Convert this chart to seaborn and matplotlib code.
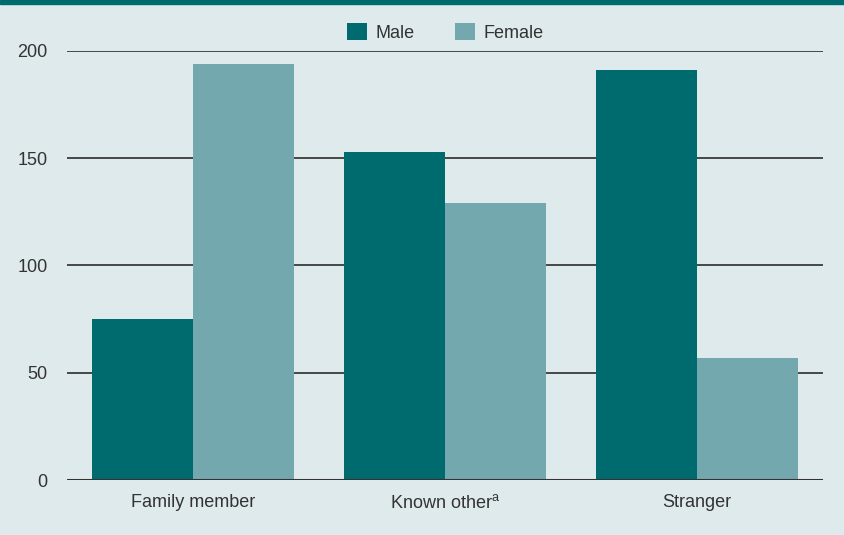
import matplotlib
matplotlib.use("Agg")
import matplotlib.pyplot as plt
import seaborn as sns
import pandas as pd
from matplotlib.patches import Patch

# data
categories = ["Family member", "Known other", "Stranger"]
male = [75, 153, 191]
female = [194, 129, 57]
tick_labels = ["Family member", r"Known other$^{\mathrm{a}}$", "Stranger"]

df = pd.DataFrame({
    "Relationship": categories * 2,
    "Sex": ["Male"] * 3 + ["Female"] * 3,
    "Count": male + female,
})

bg = "#dfeaec"
colors = {"Male": "#006b6f", "Female": "#72a8ae"}

sns.set_style("white")
plt.rcParams["font.family"] = ["Liberation Sans", "DejaVu Sans"]
plt.rcParams["mathtext.fontset"] = "custom"
plt.rcParams["mathtext.rm"] = "Liberation Sans"

fig = plt.figure(figsize=(8.45, 5.35), dpi=100, facecolor=bg)
ax = fig.add_axes([0.0793, 0.1028, 0.8947, 0.8019])
ax.set_facecolor(bg)

sns.barplot(data=df, x="Relationship", y="Count", hue="Sex",
            palette=colors, width=0.8, saturation=1, ax=ax, legend=False,
            linewidth=0, zorder=3)

ax.set_ylim(0, 200)
ax.set_xlim(-0.5, 2.5)
ax.set_yticks([0, 50, 100, 150, 200])
for y in [50, 100, 150, 200]:
    ax.axhline(y, color="#3a3a3a", lw=1.3, zorder=1)
ax.axhline(0, color="#333333", lw=2.2, zorder=4)

ax.set_xticks(range(3))
ax.set_xticklabels(tick_labels)
ax.tick_params(axis="both", length=0, labelsize=13, colors="#333333", pad=10)
ax.tick_params(axis="y", pad=14)
ax.set_xlabel("")
ax.set_ylabel("")
for s in ax.spines.values():
    s.set_visible(False)

handles = [Patch(facecolor=colors["Male"], edgecolor="none", label="Male"),
           Patch(facecolor=colors["Female"], edgecolor="none", label="Female")]
fig.legend(handles=handles, loc="center", bbox_to_anchor=(0.527, 0.94),
           ncol=2, frameon=False, fontsize=13, handlelength=1.1,
           handleheight=1.1, handletextpad=0.5, columnspacing=2.2,
           labelcolor="#333333")

# top band
fig.patches.append(plt.Rectangle((0, 0.993), 1, 0.007, transform=fig.transFigure,
                                 color="#006b6f", zorder=10))

fig.savefig("out.png", dpi=100, facecolor=bg)
